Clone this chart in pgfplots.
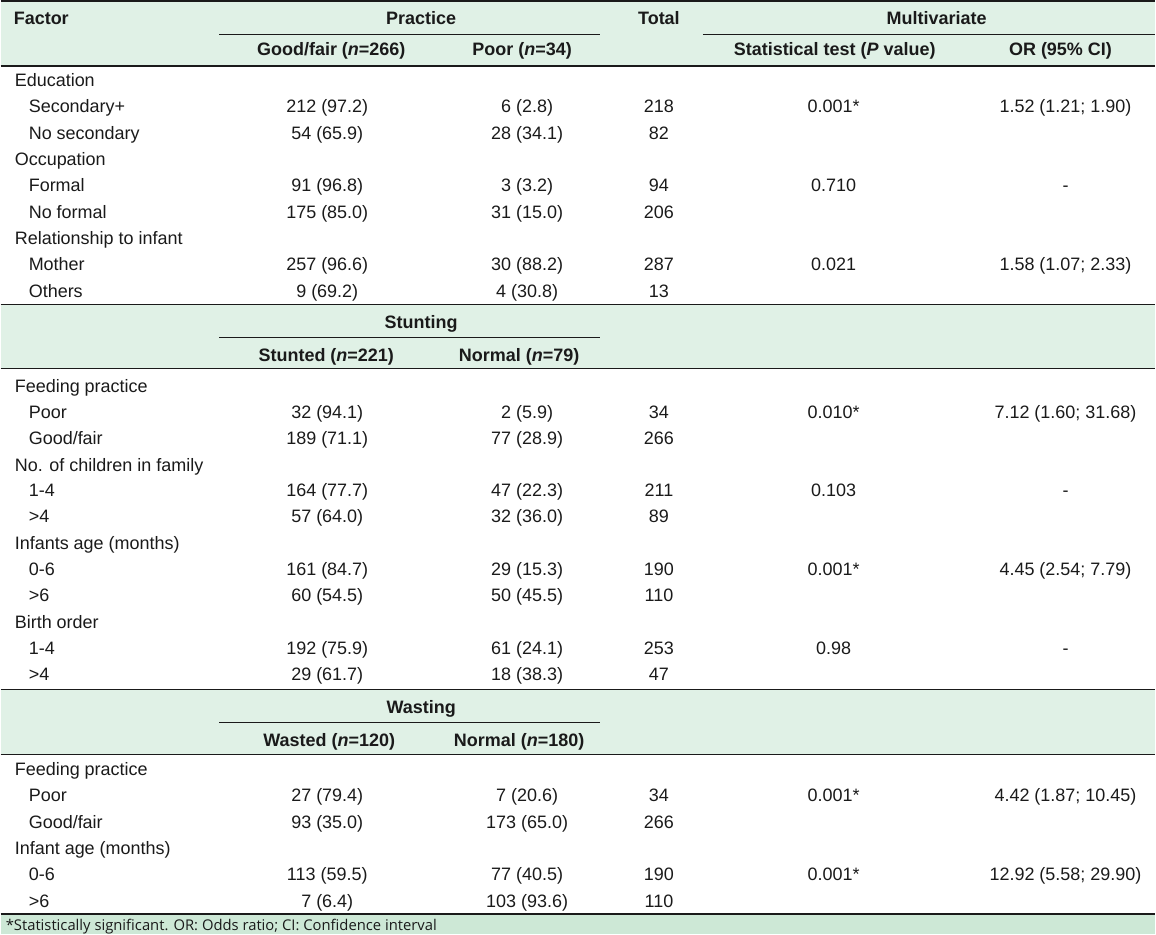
\documentclass[border=0pt]{standalone}
\usepackage{pgfplots}
\pgfplotsset{compat=1.18}
\usepackage{fontspec}
\setmainfont{Liberation Sans}
\newfontfamily\footfont{Open Sans}
\definecolor{band}{HTML}{E0F1E6}
\definecolor{foot}{HTML}{CDE8D6}
\definecolor{ink}{HTML}{1A1A1A}
\tikzset{t/.style={font=\fontsize{18}{21}\selectfont,text=ink,inner sep=0pt},
 b/.style={font=\fontsize{18}{21}\selectfont\bfseries,text=ink,inner sep=0pt}}
% row: y, label, c1, c2, total, p, or
\newcommand{\R}[7]{%
\node[t,anchor=base west] at (axis cs:28,#1+7.5) {#2};
\node[t,anchor=base] at (axis cs:327,#1+7.5) {#3};
\node[t,anchor=base] at (axis cs:527,#1+7.5) {#4};
\node[t,anchor=base] at (axis cs:659,#1+7.5) {#5};
\node[t,anchor=base] at (axis cs:834,#1+7.5) {#6};
\node[t,anchor=base] at (axis cs:1066,#1+7.5) {#7};
}
\newcommand{\G}[2]{\node[t,anchor=base west] at (axis cs:14,#1+7.5) {#2};}
\begin{document}
\fontsize{18}{21}\selectfont
\begin{tikzpicture}
\begin{axis}[width=1156pt,height=935pt,scale only axis,
 xmin=0,xmax=1156,ymin=0,ymax=935,y dir=reverse,hide axis,clip=false]
% bands
\addplot[draw=none,fill=band] coordinates {(0,0) (1156,0) (1156,66) (0,66)} -- cycle;
\addplot[draw=none,fill=band] coordinates {(0,305) (1156,305) (1156,369) (0,369)} -- cycle;
\addplot[draw=none,fill=band] coordinates {(0,690) (1156,690) (1156,755) (0,755)} -- cycle;
\addplot[draw=none,fill=foot] coordinates {(0,915) (1156,915) (1156,935) (0,935)} -- cycle;
% rules
\addplot[ink,line width=1.2pt] coordinates {(0,1) (1156,1)};
\addplot[ink,line width=1.2pt] coordinates {(0,66) (1156,66)};
\addplot[ink,line width=1.2pt] coordinates {(0,305) (1156,305)};
\addplot[ink,line width=1.2pt] coordinates {(0,369) (1156,369)};
\addplot[ink,line width=1.2pt] coordinates {(0,690) (1156,690)};
\addplot[ink,line width=1.2pt] coordinates {(0,755) (1156,755)};
\addplot[ink,line width=1.2pt] coordinates {(0,915) (1156,915)};
\addplot[ink,line width=0.9pt] coordinates {(219,34) (600,34)};
\addplot[ink,line width=0.9pt] coordinates {(703,34) (1156,34)};
\addplot[ink,line width=0.9pt] coordinates {(219,338) (600,338)};
\addplot[ink,line width=0.9pt] coordinates {(219,723) (600,723)};
% header
\node[b,anchor=base west] at (axis cs:13,25) {Factor};
\node[b,anchor=base] at (axis cs:421,25) {Practice};
\node[b,anchor=base] at (axis cs:659,25) {Total};
\node[b,anchor=base] at (axis cs:937,25) {Multivariate};
\node[b,anchor=base] at (axis cs:331,56) {Good/fair (\textit{n}=266)};
\node[b,anchor=base] at (axis cs:522,56) {Poor (\textit{n}=34)};
\node[b,anchor=base] at (axis cs:835,56) {Statistical test (\textit{P} value)};
\node[b,anchor=base] at (axis cs:1061,56) {OR (95\% CI)};
% block 1
\G{79}{Education}
\R{105}{Secondary+}{212 (97.2)}{6 (2.8)}{218}{0.001*}{1.52 (1.21; 1.90)}
\R{132}{No secondary}{54 (65.9)}{28 (34.1)}{82}{}{}
\G{158}{Occupation}
\R{184}{Formal}{91 (96.8)}{3 (3.2)}{94}{0.710}{-}
\R{211}{No formal}{175 (85.0)}{31 (15.0)}{206}{}{}
\G{237}{Relationship to infant}
\R{263}{Mother}{257 (96.6)}{30 (88.2)}{287}{0.021}{1.58 (1.07; 2.33)}
\R{290}{Others}{9 (69.2)}{4 (30.8)}{13}{}{}
% stunting header
\node[b,anchor=base] at (axis cs:421,329) {Stunting};
\node[b,anchor=base] at (axis cs:326,362) {Stunted (\textit{n}=221)};
\node[b,anchor=base] at (axis cs:519,362) {Normal (\textit{n}=79)};
\G{385}{Feeding practice}
\R{411}{Poor}{32 (94.1)}{2 (5.9)}{34}{0.010*}{7.12 (1.60; 31.68)}
\R{437}{Good/fair}{189 (71.1)}{77 (28.9)}{266}{}{}
\G{464}{No. of children in family}
\R{490}{1-4}{164 (77.7)}{47 (22.3)}{211}{0.103}{-}
\R{516}{>4}{57 (64.0)}{32 (36.0)}{89}{}{}
\G{543}{Infants age (months)}
\R{569}{0-6}{161 (84.7)}{29 (15.3)}{190}{0.001*}{4.45 (2.54; 7.79)}
\R{595}{>6}{60 (54.5)}{50 (45.5)}{110}{}{}
\G{622}{Birth order}
\R{648}{1-4}{192 (75.9)}{61 (24.1)}{253}{0.98}{-}
\R{674}{>4}{29 (61.7)}{18 (38.3)}{47}{}{}
% wasting header
\node[b,anchor=base] at (axis cs:421,714) {Wasting};
\node[b,anchor=base] at (axis cs:329,747) {Wasted (\textit{n}=120)};
\node[b,anchor=base] at (axis cs:519,747) {Normal (\textit{n}=180)};
\G{769}{Feeding practice}
\R{795}{Poor}{27 (79.4)}{7 (20.6)}{34}{0.001*}{4.42 (1.87; 10.45)}
\R{822}{Good/fair}{93 (35.0)}{173 (65.0)}{266}{}{}
\G{848}{Infant age (months)}
\R{874}{0-6}{113 (59.5)}{77 (40.5)}{190}{0.001*}{12.92 (5.58; 29.90)}
\R{901}{>6}{7 (6.4)}{103 (93.6)}{110}{}{}
% footnote
\node[anchor=base west,inner sep=0pt,text=ink,font=\footfont\fontsize{14.8}{16}\selectfont] at (axis cs:5,931) {*Statistically significant. OR: Odds ratio; CI: Confidence interval};
\end{axis}
\end{tikzpicture}
\end{document}
